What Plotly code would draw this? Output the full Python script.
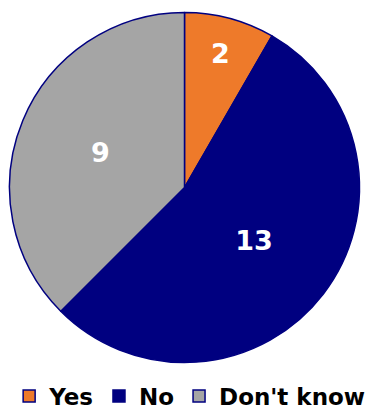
import plotly.graph_objects as go

labels = ["Yes", "No", "Don't know"]
values = [2, 13, 9]
colors = ["#EE7A2A", "#000080", "#A5A5A5"]

W, H = 379, 402  # page body has an 8px margin in the 387x410 window

fig = go.Figure(go.Pie(
    labels=labels, values=values, sort=False, direction="clockwise", rotation=0,
    marker=dict(colors=colors, line=dict(color="#000080", width=1.5)),
    textinfo="value", textposition="inside", insidetextorientation="horizontal",
    textfont=dict(family="DejaVu Sans", size=27, color="white", weight="bold"),
    domain=dict(x=[1.5/W, 351.5/W], y=[1-355/H, 1-4/H]),
    hoverinfo="label+value",
))
fig.update_layout(
    width=W, height=H, margin=dict(l=0, r=0, t=0, b=0, autoexpand=False),
    paper_bgcolor="white", plot_bgcolor="white",
    showlegend=True,
    legend=dict(orientation="h", x=0.003, y=14/H, xanchor="left", yanchor="middle",
                font=dict(family="DejaVu Sans", size=23, color="black", weight="bold"),
                itemwidth=30, tracegroupgap=0, bgcolor="rgba(0,0,0,0)"),
)
fig.write_html("out.html")
